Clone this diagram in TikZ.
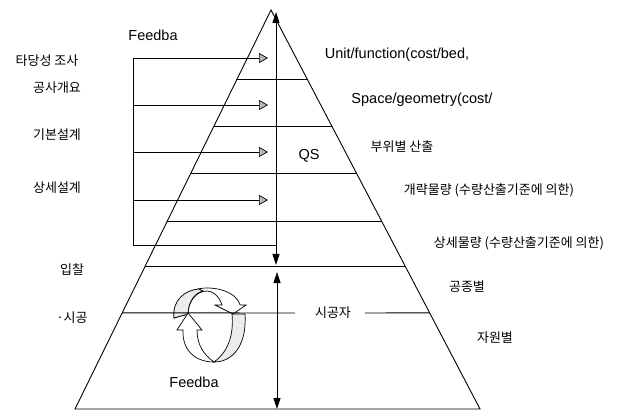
\documentclass[tikz,border=0pt]{standalone}
\usepackage{fontspec}
\setmainfont{Liberation Sans}
\newfontfamily\krfont{Noto Sans CJK KR}
\usetikzlibrary{arrows.meta,calc}
\tikzset{
  livello/.style={line width=0.9pt},
  freccia/.style={line width=0.7pt, -{Triangle[width=10pt,length=9pt,fill=gray!55]}},
  doppia/.style={line width=0.8pt, {Triangle[width=7pt,length=11pt]}-{Triangle[width=7pt,length=11pt]}},
  etich/.style={inner sep=0pt, font=\fontsize{14.5}{16}\selectfont},
  etichkr/.style={inner sep=0pt, font=\krfont\fontsize{13}{15}\selectfont},
  nastro/.style={draw, line width=0.7pt, fill=white},
  ombra/.style={draw, line width=0.7pt, fill=gray!15}
}
\begin{document}
\begin{tikzpicture}[x=1pt,y=-1pt]
        \useasboundingbox (0,0) rectangle (620,411);

        % 1. La piramide
        \coordinate (apex) at (271,10);
        \coordinate (bl) at (75,409);
        \coordinate (br) at (480,409);
        \draw[livello] (bl) -- (apex) -- (br) -- cycle;

        % 2. I livelli orizzontali
        \foreach \f in {.175,.293,.409,.531,.642}
            \draw[livello] ($(apex)!\f!(bl)$) -- ($(apex)!\f!(br)$);

        % 3. Il riquadro di feedback a sinistra
        \coordinate (boxL) at (133,245);
        \coordinate (boxR) at (276,245);
        \foreach \y [count=\i] in {58,105,152,200} {
            \coordinate (fb\i) at (133,\y);
            \coordinate (tip\i) at (268,\y);
            \draw[freccia] (fb\i) -- (tip\i);
        }
        \draw[line width=0.7pt] (fb1) -- (boxL) -- (boxR);

        % 4. Le due frecce verticali
        \coordinate (qsTop) at (276,12);
        \coordinate (qsBot) at (276,265);
        \coordinate (spTop) at (277,272);
        \coordinate (spBot) at (277,409);
        \draw[doppia] (qsTop) -- (qsBot);
        \draw[doppia] (spTop) -- (spBot);

        % 5. Il ciclo di feedback in basso
        \draw[ombra] (245,314) .. controls (247,345) and (233,362) .. (214,362)
            .. controls (228,352) and (234,335) .. (232,314) -- cycle;
        \draw[nastro] (174,318) .. controls (172,298) and (190,288) .. (207,288)
            .. controls (225,288) and (238,296) .. (240,305) -- (246,305) -- (233,314)
            -- (215,305) -- (222,305) .. controls (219,296) and (213,291) .. (207,291)
            .. controls (196,291) and (188,302) .. (188,314) -- cycle;
        \draw[ombra] (174,318) .. controls (172,300) and (185,290) .. (199,289)
            -- (203,291) .. controls (194,293) and (188,303) .. (188,314) -- cycle;
        \draw[nastro] (188,313) -- (202,330) -- (197,330)
            .. controls (197,345) and (204,355) .. (214,362)
            .. controls (195,362) and (182,350) .. (183,330) -- (177,330) -- cycle;

        % 6. La linea del cantiere, interrotta dal testo
        \node[etichkr] (sgj) at (333,313) {시공자};
        \draw[livello] ($(apex)!.759!(bl)$) -- ([xshift=-20pt]sgj.west);
        \draw[livello] ([xshift=14pt]sgj.east) -- ($(apex)!.759!(br)$);

        % 7. Le etichette a sinistra
        \node[etich] (fbTop) at (153,35) {Feedba};
        \node[etichkr] (tds) at (47,61) {타당성 조사};
        \node[etichkr] (gsgy) at (57,88) {공사개요};
        \node[etichkr] (gbsg) at (57,135) {기본설계};
        \node[etichkr] (sssg) at (57,188) {상세설계};
        \node[etichkr] (ipc) at (72,270) {입찰};
        \node[etichkr] (sg) at (72,318) {·시공};
        \node[etich] (fbBot) at (194,382) {Feedba};
        \node[etich] (qs) at (309,156) {QS};

        % 8. Le etichette a destra
        \node[etich] (unit) at (397,55) {Unit/function(cost/bed,};
        \node[etich] (space) at (422,100) {Space/geometry(cost/};
        \node[etichkr] (bwb) at (402,147) {부위별 산출};
        \node[etichkr] (gl) at (489,190) {개략물량 (수량산출기준에 의한)};
        \node[etichkr] (ss) at (519,243) {상세물량 (수량산출기준에 의한)};
        \node[etichkr] (gjb) at (467,287) {공종별};
        \node[etichkr] (jwb) at (495,338) {자원별};
    \end{tikzpicture}
\end{document}
